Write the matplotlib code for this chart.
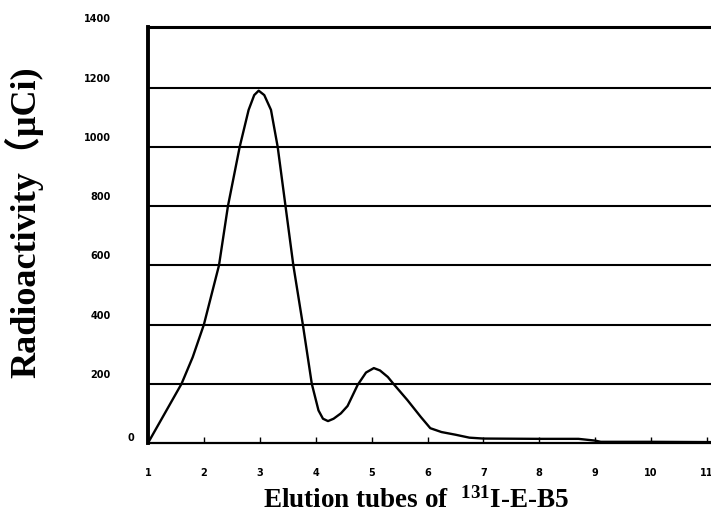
import matplotlib
matplotlib.use("Agg")
import matplotlib.pyplot as plt
from matplotlib.transforms import ScaledTranslation

# elution profile (tube number, radioactivity in uCi)
tubes = [1.0, 1.3, 1.6, 1.8, 2.0, 2.27, 2.43, 2.64, 2.8, 2.9, 2.98, 3.08, 3.2,
         3.32, 3.46, 3.6, 3.77, 3.93, 4.05, 4.13, 4.22, 4.32, 4.45, 4.57, 4.75,
         4.9, 5.04, 5.15, 5.29, 5.39, 5.64, 5.88, 6.05, 6.25, 6.5, 6.75, 7.0,
         8.0, 8.7, 9.0, 9.1, 10.0, 11.1]
activity = [0, 100, 200, 290, 400, 600, 800, 1000, 1125, 1175, 1190, 1175, 1125,
            1000, 800, 600, 400, 200, 110, 82, 74, 82, 100, 125, 196,
            238, 253, 245, 223, 200, 145, 88, 50, 37, 28, 18, 15,
            14, 14, 8, 4, 4, 3]

xticks = list(range(1, 12))
yticks = [0, 200, 400, 600, 800, 1000, 1200, 1400]
gridvals = [200, 400, 600, 800, 1000, 1200]

plt.rcParams["mathtext.fontset"] = "custom"
plt.rcParams["mathtext.rm"] = "Liberation Serif:bold"
plt.rcParams["mathtext.default"] = "rm"

fig = plt.figure(figsize=(7.11, 5.14), dpi=100)
ax = fig.add_axes([148 / 711, 1 - 443 / 514, 1 - 148 / 711, (443 - 27) / 514])

for v in gridvals:
    ax.axhline(v, color="black", lw=1.5, zorder=1)
ax.plot(tubes, activity, color="black", lw=1.7, zorder=3)

ax.set_xlim(1, 1 + (711 - 147) / 56)
ax.set_ylim(0, 1405)

ax.spines["left"].set_linewidth(2.8)
ax.spines["top"].set_linewidth(2.2)
ax.spines["bottom"].set_linewidth(1.6)
ax.spines["right"].set_visible(False)

ax.set_xticks(xticks)
ax.set_xticklabels([str(t) for t in xticks], fontsize=7, fontweight="bold")
ax.tick_params(axis="x", direction="in", length=4, width=1, pad=18)
ax.set_yticks(yticks)
ax.set_yticklabels([str(t) for t in yticks], fontsize=7, fontweight="bold")
ax.tick_params(axis="y", length=0, pad=27)
for i, lab in enumerate(ax.get_yticklabels()):
    if i == 0:
        shift = ScaledTranslation(0.24, 0.06, fig.dpi_scale_trans)
    else:
        shift = ScaledTranslation(0, 0.10, fig.dpi_scale_trans)
    lab.set_transform(lab.get_transform() + shift)

fig.text(24 / 711, 1 - 222 / 514, "Radioactivity\uff08\u03bcCi)",
         rotation=90, ha="center", va="center", fontsize=26, fontweight="bold",
         family=["Liberation Serif", "Noto Sans CJK SC"])
fig.text(416 / 711, 1 - 500 / 514, "Elution tubes of  $^{131}$I-E-B5",
         ha="center", va="center", fontsize=19.5, fontweight="bold",
         family="Liberation Serif")

fig.savefig("out.png", dpi=100)
